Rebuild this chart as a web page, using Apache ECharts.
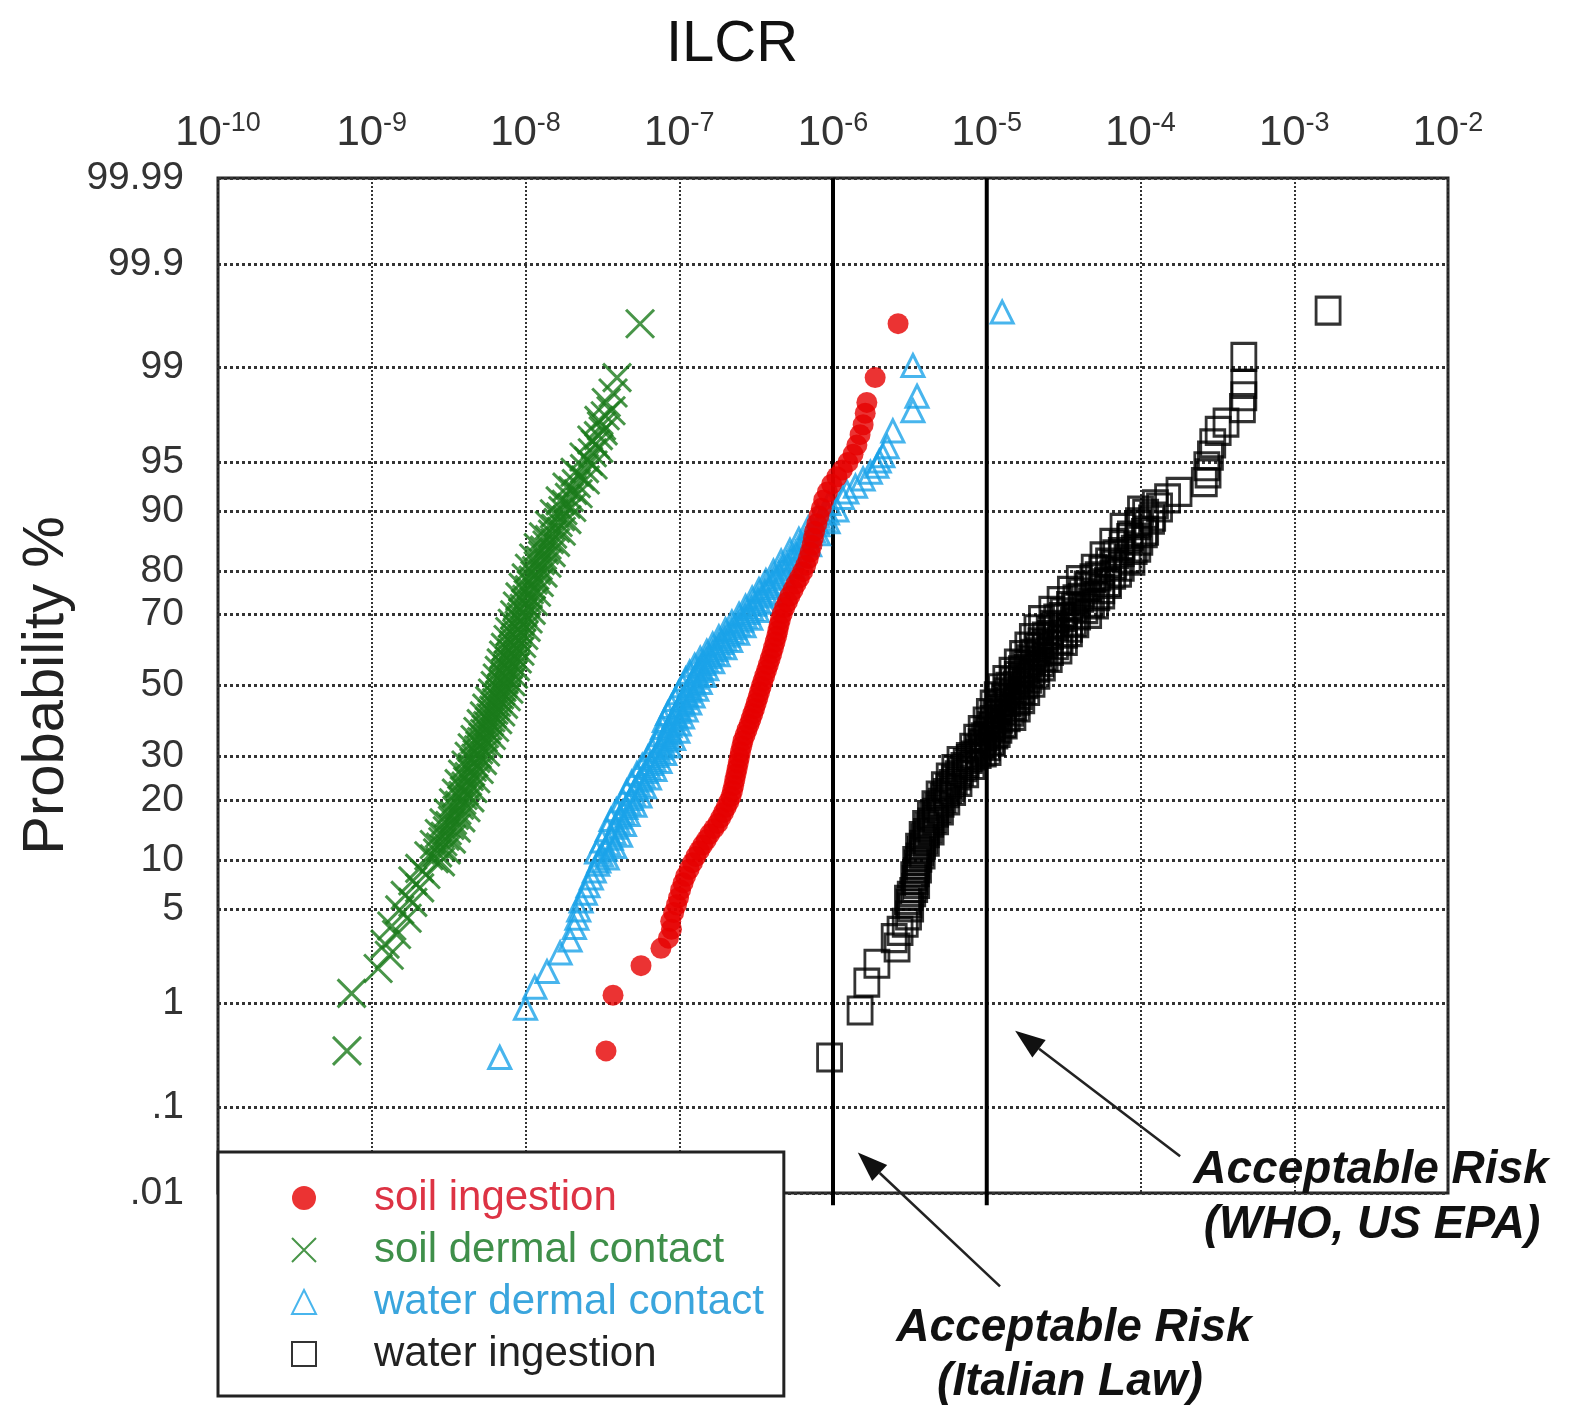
<!DOCTYPE html>
<html>
<head>
<meta charset="UTF-8">
<title>ILCR probability plot</title>
<script src="https://cdn.jsdelivr.net/npm/echarts@6/dist/echarts.min.js"></script>
<style>
  html, body { margin: 0; padding: 0; background: #fff; }
  #main { width: 1574px; height: 1413px; }
</style>
</head>
<body>
<div id="main"></div>
<script type="text/javascript">
// probability axis: tick values (%) and how they are printed
var probTicks = [99.99, 99.9, 99, 95, 90, 80, 70, 50, 30, 20, 10, 5, 1, 0.1, 0.01];
var probLabels = ['99.99', '99.9', '99', '95', '90', '80', '70', '50', '30', '20', '10', '5', '1', '.1', '.01'];
// acceptable risk limits (Italian law, WHO / US EPA)
var riskLimits = [1e-6, 1e-5];

// [ILCR, cumulative probability %]
var soilIngestion = [
  [3.34e-8,0.37],[3.71e-8,1.16],[5.64e-8,2.0],[7.6e-8,2.7],[8.5e-8,3.2],[8.9e-8,3.7],[8.8e-8,4.2],
  [9.2e-8,4.8],[9.6e-8,5.4],[9.9e-8,6.0],[1.02e-7,6.7],[1.06e-7,7.4],[1.10e-7,8.1],[1.16e-7,8.9],
  [1.22e-7,9.7],[1.28e-7,10.5],[1.35e-7,11.3],[1.42e-7,12.1],[1.50e-7,12.9],[1.58e-7,13.8],
  [1.68e-7,14.7],[1.78e-7,15.6],[1.86e-7,16.6],[1.94e-7,17.6],[2.02e-7,18.6],[2.10e-7,19.7],
  [2.17e-7,20.8],[2.22e-7,22.0],[2.26e-7,23.2],[2.30e-7,24.5],[2.34e-7,25.8],[2.38e-7,27.1],
  [2.42e-7,28.5],[2.46e-7,29.9],[2.50e-7,31.3],[2.55e-7,32.8],[2.60e-7,34.3],[2.68e-7,35.8],
  [2.76e-7,37.3],[2.85e-7,38.8],[2.93e-7,40.3],[3.01e-7,41.8],[3.09e-7,43.3],[3.17e-7,44.9],
  [3.25e-7,46.5],[3.33e-7,48.1],[3.41e-7,49.7],[3.50e-7,51.3],[3.60e-7,52.9],[3.70e-7,54.5],
  [3.80e-7,56.1],[3.90e-7,57.7],[4.00e-7,59.3],[4.10e-7,60.9],[4.20e-7,62.5],[4.30e-7,64.1],
  [4.38e-7,65.6],[4.46e-7,67.1],[4.55e-7,68.6],[4.68e-7,70.1],[4.85e-7,71.6],[5.05e-7,73.0],
  [5.25e-7,74.4],[5.50e-7,75.8],[5.75e-7,77.2],[6.05e-7,78.5],[6.35e-7,79.8],[6.65e-7,81.1],
  [6.90e-7,82.4],[7.10e-7,83.6],[7.30e-7,84.8],[7.45e-7,86.0],[7.60e-7,87.1],[7.85e-7,88.2],
  [8.10e-7,89.3],[8.40e-7,90.3],[8.70e-7,91.3],[9.20e-7,92.2],[9.80e-7,93.0],[1.06e-6,93.7],
  [1.15e-6,94.3],[1.25e-6,94.9],[1.35e-6,95.5],[1.43e-6,96.1],[1.50e-6,96.7],[1.57e-6,97.2],
  [1.62e-6,97.7],[1.66e-6,98.1],[1.88e-6,98.8],[2.65e-6,99.6]
];
var soilDermal = [
  [6.9e-10,0.37],[7.4e-10,1.2],[1.10e-9,1.9],[1.30e-9,2.4],[1.22e-9,2.9],[1.45e-9,3.4],[1.35e-9,3.9],
  [1.70e-9,4.4],[1.52e-9,5.0],[1.85e-9,5.6],[1.65e-9,6.2],[2.05e-9,6.9],[1.85e-9,7.6],[2.25e-9,8.3],
  [2.05e-9,9.0],[2.80e-9,9.8],[2.35e-9,10.6],[3.05e-9,11.4],[2.55e-9,12.2],[3.30e-9,13.0],
  [2.75e-9,13.9],[3.55e-9,14.8],[2.95e-9,15.7],[3.80e-9,16.6],[3.15e-9,17.5],[4.10e-9,18.5],
  [3.40e-9,19.5],[4.35e-9,20.5],[3.55e-9,21.5],[4.55e-9,22.5],[3.70e-9,23.6],[4.75e-9,24.7],
  [3.90e-9,25.8],[5.00e-9,26.9],[4.10e-9,28.0],[5.25e-9,29.1],[4.30e-9,30.2],[5.50e-9,31.3],
  [4.50e-9,32.4],[5.70e-9,33.5],[4.70e-9,34.6],[6.00e-9,35.7],[4.90e-9,36.8],[6.30e-9,37.9],
  [5.15e-9,39.0],[6.60e-9,40.1],[5.40e-9,41.2],[6.90e-9,42.3],[5.60e-9,43.4],[7.20e-9,44.5],
  [5.85e-9,45.6],[7.50e-9,46.7],[6.10e-9,47.8],[7.80e-9,48.9],[6.35e-9,50.0],[8.05e-9,51.1],
  [6.55e-9,52.2],[8.35e-9,53.3],[6.75e-9,54.4],[8.60e-9,55.5],[6.95e-9,56.6],[8.85e-9,57.7],
  [7.20e-9,58.8],[9.20e-9,59.9],[7.40e-9,61.0],[9.45e-9,62.1],[7.70e-9,63.2],[9.75e-9,64.3],
  [7.90e-9,65.4],[1.01e-8,66.5],[8.20e-9,67.6],[1.04e-8,68.7],[8.50e-9,69.8],[1.09e-8,70.9],
  [8.85e-9,72.0],[1.13e-8,73.1],[9.20e-9,74.2],[1.18e-8,75.3],[9.65e-9,76.4],[1.23e-8,77.5],
  [1.01e-8,78.5],[1.30e-8,79.5],[1.06e-8,80.5],[1.38e-8,81.5],[1.13e-8,82.5],[1.47e-8,83.5],
  [1.21e-8,84.4],[1.57e-8,85.3],[1.31e-8,86.2],[1.71e-8,87.1],[1.43e-8,88.0],[1.86e-8,88.8],
  [1.54e-8,89.6],[2.00e-8,90.4],[1.68e-8,91.2],[2.20e-8,92.0],[1.86e-8,92.7],[2.45e-8,93.4],
  [2.10e-8,94.1],[2.75e-8,94.7],[2.40e-8,95.3],[3.00e-8,95.9],[2.70e-8,96.4],[3.20e-8,96.9],
  [3.00e-8,97.4],[3.60e-8,97.8],[3.35e-8,98.1],[3.71e-8,98.4],[3.94e-8,98.8],[5.56e-8,99.6],
  // centre of the dense band
  [2.55e-9,10.2],[2.68e-9,11.0],[2.80e-9,11.8],[2.90e-9,12.6],[3.00e-9,13.45],[3.10e-9,14.35],
  [3.22e-9,15.25],[3.35e-9,16.15],[3.45e-9,17.05],[3.58e-9,18.0],[3.72e-9,19.0],[3.85e-9,20.0],
  [3.92e-9,21.0],[4.00e-9,22.0],[4.10e-9,23.05],[4.20e-9,24.15],[4.30e-9,25.25],[4.40e-9,26.35],
  [4.50e-9,27.45],[4.62e-9,28.55],[4.75e-9,29.65],[4.85e-9,30.75],[4.95e-9,31.85],[5.05e-9,32.95],
  [5.18e-9,34.05],[5.30e-9,35.15],[5.42e-9,36.25],[5.55e-9,37.35],[5.68e-9,38.45],[5.82e-9,39.55],
  [5.95e-9,40.65],[6.08e-9,41.75],[6.22e-9,42.85],[6.35e-9,43.95],[6.48e-9,45.05],[6.62e-9,46.15],
  [6.78e-9,47.25],[6.90e-9,48.35],[7.02e-9,49.45],[7.15e-9,50.55],[7.25e-9,51.65],[7.38e-9,52.75],
  [7.50e-9,53.85],[7.60e-9,54.95],[7.72e-9,56.05],[7.85e-9,57.15],[7.98e-9,58.25],[8.12e-9,59.35],
  [8.25e-9,60.45],[8.38e-9,61.55],[8.52e-9,62.65],[8.65e-9,63.75],[8.78e-9,64.85],[8.92e-9,65.95],
  [9.08e-9,67.05],[9.22e-9,68.15],[9.40e-9,69.25],[9.60e-9,70.35],[9.80e-9,71.45],[1.00e-8,72.55],
  [1.02e-8,73.65],[1.04e-8,74.75],[1.06e-8,75.85],[1.09e-8,76.95],[1.12e-8,78.0],[1.15e-8,79.0],
  [1.18e-8,80.0],[1.21e-8,81.0],[1.25e-8,82.0],[1.29e-8,83.0],[1.33e-8,83.95],[1.38e-8,84.85],
  [1.43e-8,85.75],[1.50e-8,86.65],[1.57e-8,87.55],[1.63e-8,88.4],[1.69e-8,89.2],[1.75e-8,90.0],
  [1.84e-8,90.8],[1.93e-8,91.6],[2.03e-8,92.35],[2.14e-8,93.05],[2.27e-8,93.75],[2.42e-8,94.4],
  [2.57e-8,95.0],[2.72e-8,95.6],[2.85e-8,96.15],[2.98e-8,96.65],[3.12e-8,97.15],[3.30e-8,97.6]
];
var waterDermal = [
  [6.8e-9,0.32],[1.0e-8,0.9],[1.15e-8,1.35],[1.38e-8,1.8],[1.68e-8,2.5],[1.95e-8,3.1],[2.08e-8,3.8],
  [2.16e-8,4.4],[2.22e-8,5.0],[2.30e-8,5.7],[2.45e-8,6.4],[2.55e-8,7.1],[2.68e-8,7.9],[2.80e-8,8.7],
  [2.95e-8,9.5],[3.40e-8,10.3],[2.90e-8,11.1],[3.80e-8,11.9],[3.15e-8,12.7],[4.15e-8,13.6],
  [3.40e-8,14.5],[4.40e-8,15.4],[3.60e-8,16.3],[4.65e-8,17.2],[3.90e-8,18.1],[5.15e-8,19.0],
  [4.30e-8,19.9],[5.55e-8,20.9],[4.55e-8,21.9],[5.95e-8,22.9],[4.90e-8,23.9],[6.40e-8,24.9],
  [5.30e-8,25.9],[6.95e-8,26.9],[5.75e-8,27.9],[7.50e-8,28.9],[6.25e-8,29.9],[8.05e-8,30.9],
  [6.65e-8,31.9],[8.60e-8,32.9],[7.10e-8,33.9],[9.20e-8,34.9],[7.55e-8,35.9],[9.80e-8,36.9],
  [7.80e-8,37.9],[1.00e-7,38.9],[8.00e-8,39.9],[1.05e-7,40.9],[8.40e-8,41.9],[1.11e-7,42.9],
  [8.90e-8,43.9],[1.17e-7,44.9],[9.40e-8,45.9],[1.23e-7,46.9],[9.90e-8,47.9],[1.30e-7,48.9],
  [1.05e-7,49.9],[1.37e-7,50.9],[1.10e-7,51.9],[1.45e-7,52.9],[1.17e-7,53.9],[1.51e-7,54.9],
  [1.26e-7,55.9],[1.65e-7,56.9],[1.37e-7,57.9],[1.79e-7,58.9],[1.51e-7,59.9],[1.98e-7,60.9],
  [1.65e-7,61.9],[2.16e-7,62.9],[1.81e-7,63.9],[2.40e-7,64.9],[2.00e-7,65.9],[2.64e-7,66.9],
  [2.20e-7,67.9],[2.92e-7,68.9],[2.45e-7,69.9],[3.22e-7,70.9],[2.70e-7,71.9],[3.55e-7,72.9],
  [2.98e-7,73.9],[3.95e-7,74.9],[3.30e-7,75.9],[4.37e-7,76.9],[3.66e-7,77.9],[4.80e-7,78.9],
  [4.10e-7,79.9],[5.45e-7,80.9],[4.60e-7,81.9],[6.15e-7,82.9],[5.25e-7,83.9],[7.05e-7,84.9],
  [6.00e-7,85.8],[8.05e-7,86.7],[6.90e-7,87.6],[9.30e-7,88.5],[7.95e-7,89.3],[1.06e-6,90.1],
  [9.40e-7,90.9],[1.15e-6,91.6],[1.23e-6,92.2],[1.40e-6,92.8],[1.57e-6,93.5],[1.75e-6,94.1],
  [1.93e-6,94.6],[2.00e-6,95.0],[2.11e-6,95.4],[2.25e-6,96.0],[2.45e-6,96.9],[3.31e-6,97.8],
  [3.52e-6,98.3],[3.31e-6,99.05],[1.26e-5,99.69],
  // centre of the dense band
  [3.00e-8,9.9],[3.12e-8,10.7],[3.30e-8,11.5],[3.47e-8,12.3],[3.62e-8,13.15],[3.76e-8,14.05],
  [3.88e-8,14.95],[4.00e-8,15.85],[4.10e-8,16.75],[4.28e-8,17.65],[4.50e-8,18.55],[4.70e-8,19.45],
  [4.88e-8,20.4],[5.02e-8,21.4],[5.20e-8,22.4],[5.40e-8,23.4],[5.60e-8,24.4],[5.82e-8,25.4],
  [6.08e-8,26.4],[6.32e-8,27.4],[6.58e-8,28.4],[6.85e-8,29.4],[7.10e-8,30.4],[7.32e-8,31.4],
  [7.58e-8,32.4],[7.82e-8,33.4],[8.08e-8,34.4],[8.32e-8,35.4],[8.50e-8,36.4],[8.60e-8,37.4],
  [8.70e-8,38.4],[8.95e-8,39.4],[9.20e-8,40.4],[9.45e-8,41.4],[9.70e-8,42.4],[9.95e-8,43.4],
  [1.02e-7,44.4],[1.05e-7,45.4],[1.08e-7,46.4],[1.11e-7,47.4],[1.14e-7,48.4],[1.17e-7,49.4],
  [1.20e-7,50.4],[1.23e-7,51.4],[1.26e-7,52.4],[1.30e-7,53.4],[1.34e-7,54.4],[1.38e-7,55.4],
  [1.44e-7,56.4],[1.50e-7,57.4],[1.57e-7,58.4],[1.65e-7,59.4],[1.73e-7,60.4],[1.81e-7,61.4],
  [1.89e-7,62.4],[1.98e-7,63.4],[2.08e-7,64.4],[2.20e-7,65.4],[2.30e-7,66.4],[2.42e-7,67.4],
  [2.55e-7,68.4],[2.68e-7,69.4],[2.80e-7,70.4],[2.95e-7,71.4],[3.10e-7,72.4],[3.25e-7,73.4],
  [3.42e-7,74.4],[3.60e-7,75.4],[3.80e-7,76.4],[4.00e-7,77.4],[4.20e-7,78.4],[4.45e-7,79.4],
  [4.70e-7,80.4],[5.00e-7,81.4],[5.35e-7,82.4],[5.70e-7,83.4],[6.10e-7,84.4],[6.50e-7,85.35],
  [6.95e-7,86.25],[7.45e-7,87.15],[8.00e-7,88.05],[8.60e-7,88.9],[9.20e-7,89.7]
];
var waterIngestion = [
  [9.5e-7,0.32],[1.50e-6,0.86],[1.66e-6,1.47],[1.93e-6,2.07],[2.61e-6,2.74],[2.50e-6,3.2],[2.73e-6,3.6],
  [2.95e-6,4.1],[3.10e-6,4.6],[3.20e-6,5.2],[3.05e-6,5.8],[3.30e-6,6.5],[3.50e-6,7.3],[3.35e-6,8.1],
  [3.60e-6,9.0],[3.45e-6,9.9],[3.80e-6,10.8],[3.60e-6,11.7],[4.05e-6,12.6],[3.80e-6,13.5],
  [4.35e-6,14.4],[4.00e-6,15.3],[4.65e-6,16.2],[4.30e-6,17.1],[5.00e-6,18.0],[4.60e-6,19.0],
  [5.50e-6,20.0],[4.90e-6,21.0],[6.00e-6,22.0],[5.30e-6,23.0],[6.60e-6,24.0],[5.70e-6,25.0],
  [7.30e-6,26.0],[6.20e-6,27.0],[8.00e-6,28.0],[6.70e-6,29.0],
  [7.7e-6,30.0],[8.8e-6,30.8],[1.02e-5,31.6],[8.1e-6,32.4],[9.4e-6,33.2],[1.09e-5,34.0],
  [8.6e-6,34.8],[1.00e-5,35.6],[1.17e-5,36.4],[9.2e-6,37.2],[1.09e-5,38.0],[1.30e-5,38.8],
  [9.9e-6,39.6],[1.21e-5,40.4],[1.48e-5,41.2],[1.04e-5,42.0],[1.28e-5,42.8],[1.58e-5,43.6],
  [1.10e-5,44.4],[1.37e-5,45.2],[1.69e-5,46.0],[1.17e-5,46.8],[1.46e-5,47.6],[1.82e-5,48.4],
  [1.23e-5,49.2],[1.56e-5,50.0],[1.97e-5,50.8],[1.33e-5,51.6],[1.68e-5,52.4],[2.12e-5,53.2],
  [1.46e-5,54.0],[1.83e-5,54.8],[2.30e-5,55.6],[1.58e-5,56.4],[1.99e-5,57.2],[2.55e-5,58.0],
  [1.71e-5,58.8],[2.18e-5,59.6],[2.95e-5,60.4],[1.85e-5,61.2],[2.40e-5,62.0],[3.20e-5,62.8],
  [1.98e-5,63.6],[2.60e-5,64.4],[3.45e-5,65.2],[2.12e-5,66.0],[2.80e-5,66.8],[3.80e-5,67.6],
  [2.27e-5,68.4],[3.10e-5,69.2],[4.60e-5,70.0],[2.65e-5,70.8],[3.70e-5,71.6],[5.10e-5,72.4],
  [3.00e-5,73.2],[4.10e-5,74.0],[5.60e-5,74.8],[3.50e-5,75.6],[4.60e-5,76.4],[6.20e-5,77.2],
  [4.00e-5,78.0],[5.30e-5,78.8],[7.20e-5,79.6],[5.00e-5,80.4],[6.70e-5,81.2],[8.80e-5,82.0],
  [5.70e-5,82.8],[7.50e-5,83.6],[9.60e-5,84.4],[6.60e-5,85.2],[8.50e-5,86.0],[1.06e-4,86.8],
  [7.70e-5,87.6],[9.70e-5,88.4],[1.20e-4,89.2],[1.00e-4,90.0],[1.25e-4,90.8],[1.50e-4,91.5],
  [1.78e-4,92.2],[2.60e-4,93.2],[2.75e-4,94.0],[2.70e-4,94.6],[2.85e-4,95.4],[2.95e-4,96.2],
  [3.20e-4,96.9],[3.60e-4,97.3],[4.60e-4,97.9],[4.70e-4,98.3],[4.70e-4,98.65],[4.70e-4,99.2],
  [1.66e-3,99.7],
  // filling of the dense band
  [3.12e-6,5.5],[3.18e-6,6.15],[3.40e-6,6.9],[3.42e-6,7.7],[3.48e-6,8.55],[3.52e-6,9.45],
  [3.62e-6,10.35],[3.70e-6,11.25],[3.82e-6,12.15],[3.92e-6,13.05],[4.05e-6,13.95],[4.18e-6,14.85],
  [4.32e-6,15.75],[4.48e-6,16.65],[4.65e-6,17.55],[4.80e-6,18.5],[5.05e-6,19.5],[5.20e-6,20.5],
  [5.45e-6,21.5],[5.65e-6,22.5],[5.95e-6,23.5],[6.15e-6,24.5],[6.50e-6,25.5],[6.75e-6,26.5],
  [7.10e-6,27.5],[7.35e-6,28.5],[7.70e-6,29.5],
  [8.3e-6,30.4],[9.5e-6,31.2],[8.8e-6,32.0],[1.01e-5,32.8],[9.2e-6,33.6],[1.07e-5,34.4],
  [9.6e-6,35.2],[1.13e-5,36.0],[1.02e-5,36.8],[1.20e-5,37.6],[1.06e-5,38.4],[1.28e-5,39.2],
  [1.10e-5,40.0],[1.36e-5,40.8],[1.15e-5,41.6],[1.43e-5,42.4],[1.20e-5,43.2],[1.50e-5,44.0],
  [1.25e-5,44.8],[1.57e-5,45.6],[1.30e-5,46.4],[1.63e-5,47.2],[1.35e-5,48.0],[1.70e-5,48.8],
  [1.39e-5,49.6],[1.77e-5,50.4],[1.48e-5,51.2],[1.87e-5,52.0],[1.58e-5,52.8],[1.97e-5,53.6],
  [1.68e-5,54.4],[2.10e-5,55.2],[1.78e-5,56.0],[2.25e-5,56.8],[1.90e-5,57.6],[2.40e-5,58.4],
  [2.02e-5,59.2],[2.60e-5,60.0],[2.15e-5,60.8],[2.80e-5,61.6],[2.25e-5,62.4],[3.00e-5,63.2],
  [2.40e-5,64.0],[3.20e-5,64.8],[2.55e-5,65.6],[3.45e-5,66.4],[2.70e-5,67.2],[3.65e-5,68.0],
  [2.85e-5,68.8],[3.90e-5,69.6],[3.15e-5,70.4],[4.35e-5,71.2],[3.45e-5,72.0],[4.80e-5,72.8],
  [3.80e-5,73.6],[5.20e-5,74.4],[4.15e-5,75.2],[5.60e-5,76.0],[4.50e-5,76.8],[6.10e-5,77.6],
  [4.90e-5,78.4],[6.60e-5,79.2],[5.60e-5,80.0],[7.50e-5,80.8],[6.20e-5,81.6],[8.30e-5,82.4],
  [6.90e-5,83.2],[9.10e-5,84.0],[7.60e-5,84.8],[9.90e-5,85.6],[8.60e-5,86.4],[1.08e-4,87.2],
  [9.60e-5,88.0],[1.18e-4,88.8],[1.08e-4,89.6],[1.33e-4,90.4]
];

// arrows of the two annotations: [ILCR, probability %] of tail and tip
var arrowWho = [[1.81e-4, 0.028], [1.53e-5, 0.57]];
var arrowItaly = [[1.22e-5, 0.00053], [1.45e-6, 0.031]];

// inverse of the standard normal CDF (Acklam), probability in %
function probit(pct) {
  var p = pct / 100;
  var a = [-3.969683028665376e+01, 2.209460984245205e+02, -2.759285104469687e+02, 1.383577518672690e+02, -3.066479806614716e+01, 2.506628277459239e+00];
  var b = [-5.447609879822406e+01, 1.615858368580409e+02, -1.556989798598866e+02, 6.680131188771972e+01, -1.328068155288572e+01];
  var c = [-7.784894002430293e-03, -3.223964580411365e-01, -2.400758277161838e+00, -2.549671664969545e+00, 4.374664141464968e+00, 2.938163982698783e+00];
  var d = [7.784695709041462e-03, 3.224671290700398e-01, 2.445134137142996e+00, 3.754408661907416e+00];
  var plow = 0.02425, q, r;
  if (p < plow) {
    q = Math.sqrt(-2 * Math.log(p));
    return (((((c[0]*q+c[1])*q+c[2])*q+c[3])*q+c[4])*q+c[5]) / ((((d[0]*q+d[1])*q+d[2])*q+d[3])*q+1);
  }
  if (p <= 1 - plow) {
    q = p - 0.5; r = q * q;
    return (((((a[0]*r+a[1])*r+a[2])*r+a[3])*r+a[4])*r+a[5])*q / (((((b[0]*r+b[1])*r+b[2])*r+b[3])*r+b[4])*r+1);
  }
  q = Math.sqrt(-2 * Math.log(1 - p));
  return -(((((c[0]*q+c[1])*q+c[2])*q+c[3])*q+c[4])*q+c[5]) / ((((d[0]*q+d[1])*q+d[2])*q+d[3])*q+1);
}
function toProbit(arr) {
  return arr.map(function (d) { return [d[0], probit(d[1])]; });
}

var FONT = "'Liberation Sans', Arial, sans-serif";
var zLow = probit(probTicks[probTicks.length - 1]);
var zHigh = probit(probTicks[0]);
// tiny margin so the 99.99 / .01 lines stay inside the axis range
var yMin = zLow - 0.001, yMax = zHigh + 0.001;

var myChart = echarts.init(document.getElementById('main'));

var limitSeries = riskLimits.map(function (x, i) {
  return {
    name: 'limit' + i, type: 'line', z: 2, silent: true, clip: false,
    symbol: 'none', lineStyle: { color: '#000', width: 4 },
    data: [[x, zHigh], [x, zLow - 0.09]]
  };
});

var option = {
  animation: false,
  backgroundColor: '#fff',
  textStyle: { fontFamily: FONT },
  grid: {
    left: 218, top: 178, width: 1230, height: 1015,
    show: true, borderColor: '#222', borderWidth: 3, backgroundColor: '#fff',
    outerBoundsMode: 'none'
  },
  xAxis: {
    type: 'log', logBase: 10, min: 1e-10, max: 1e-2, splitNumber: 8,
    position: 'top',
    axisLine: { show: false }, axisTick: { show: false },
    splitLine: { show: true, lineStyle: { type: 'dotted', color: '#333', width: 2 } },
    axisLabel: {
      margin: 22,
      formatter: function (v) { return '{b|10}{s|' + Math.round(Math.log10(v)) + '}'; },
      rich: {
        b: { fontSize: 42, lineHeight: 46, color: '#333', fontFamily: FONT },
        s: { fontSize: 27, lineHeight: 27, verticalAlign: 'top', color: '#333', fontFamily: FONT }
      }
    }
  },
  yAxis: {
    type: 'value', min: yMin, max: yMax,
    axisLine: { show: false }, axisTick: { show: false }, axisLabel: { show: false },
    splitLine: { show: false },
    name: 'Probability %', nameLocation: 'middle', nameRotate: 90, nameGap: 142,
    nameTextStyle: { fontSize: 58, color: '#222', fontFamily: FONT }
  },
  legend: {
    orient: 'vertical', left: 218, top: 1152, z: 20,
    padding: [20, 20, 16, 73],
    itemWidth: 24, itemHeight: 24, itemGap: 0,
    backgroundColor: '#fff', borderColor: '#222', borderWidth: 3,
    selectedMode: false,
    textStyle: { fontSize: 42, lineHeight: 52, fontFamily: FONT, padding: [0, 0, 0, 53] },
    data: [
      { name: 'soil ingestion', textStyle: { color: '#dd3344' } },
      { name: 'soil dermal contact', textStyle: { color: '#3f8f4a' } },
      { name: 'water dermal contact', textStyle: { color: '#3aa5dd' } },
      { name: 'water ingestion', textStyle: { color: '#222' } }
    ]
  },
  series: [
    {
      name: 'grid', type: 'line', data: [], z: 1, silent: true,
      markLine: {
        silent: true, z: 1, symbol: ['none', 'none'],
        lineStyle: { type: 'dotted', color: '#333', width: 3 },
        label: { position: 'start', distance: 34, fontSize: 39, color: '#333', fontFamily: FONT,
                 formatter: function (p) { return p.name; } },
        data: probTicks.map(function (p, i) { return { yAxis: probit(p), name: probLabels[i] }; })
      }
    }
  ].concat(limitSeries, [
    {
      name: 'soil dermal contact', type: 'scatter', z: 3,
      symbol: 'path://M0,0L10,10M10,0L0,10', symbolSize: 28,
      itemStyle: { color: 'rgba(0,0,0,0)', borderColor: '#1a7a1a', borderWidth: 3 },
      data: toProbit(soilDermal)
    },
    {
      name: 'water dermal contact', type: 'scatter', z: 3,
      symbol: 'triangle', symbolSize: 22,
      itemStyle: { color: 'rgba(0,0,0,0)', borderColor: '#1aa3e8', borderWidth: 3 },
      data: toProbit(waterDermal)
    },
    {
      name: 'soil ingestion', type: 'scatter', z: 3,
      symbol: 'circle', symbolSize: 21,
      itemStyle: { color: '#e60000' },
      data: toProbit(soilIngestion)
    },
    {
      name: 'water ingestion', type: 'scatter', z: 3,
      symbol: 'rect', symbolSize: [24, 27],
      itemStyle: { color: 'rgba(0,0,0,0)', borderColor: '#000', borderWidth: 3 },
      data: toProbit(waterIngestion)
    }
  ])
};
myChart.setOption(option);

// annotations: arrows placed through the chart's own coordinate conversion
function px(d) { return myChart.convertToPixel({ gridIndex: 0 }, [d[0], probit(d[1])]); }
function arrow(pair) {
  var from = px(pair[0]), to = px(pair[1]);
  var dx = to[0] - from[0], dy = to[1] - from[1];
  var len = Math.sqrt(dx * dx + dy * dy), ux = dx / len, uy = dy / len;
  var hl = 30, hw = 11;
  var bx = to[0] - ux * hl, by = to[1] - uy * hl;
  return [
    { type: 'line', z: 10, shape: { x1: from[0], y1: from[1], x2: bx, y2: by }, style: { stroke: '#222', lineWidth: 2.5 } },
    { type: 'polygon', z: 10, shape: { points: [to, [bx - uy * hw, by + ux * hw], [bx + uy * hw, by - ux * hw]] }, style: { fill: '#111' } }
  ];
}
function label(text, x, y, size, bold) {
  return {
    type: 'text', x: x, y: y, z: 10,
    style: {
      text: text, fontSize: size, fontFamily: FONT,
      fontWeight: bold ? 'bold' : 'normal', fontStyle: bold ? 'italic' : 'normal',
      fill: '#111', align: 'center', verticalAlign: 'middle', textAlign: 'center', textVerticalAlign: 'middle'
    }
  };
}
myChart.setOption({
  graphic: [
    label('ILCR', 732, 45, 58, false),
    label('Acceptable Risk', 1371, 1170, 46, true),
    label('(WHO, US EPA)', 1372, 1225, 46, true),
    label('Acceptable Risk', 1074, 1328, 46, true),
    label('(Italian Law)', 1070, 1382, 46, true)
  ].concat(arrow(arrowWho), arrow(arrowItaly))
});
</script>
</body>
</html>
